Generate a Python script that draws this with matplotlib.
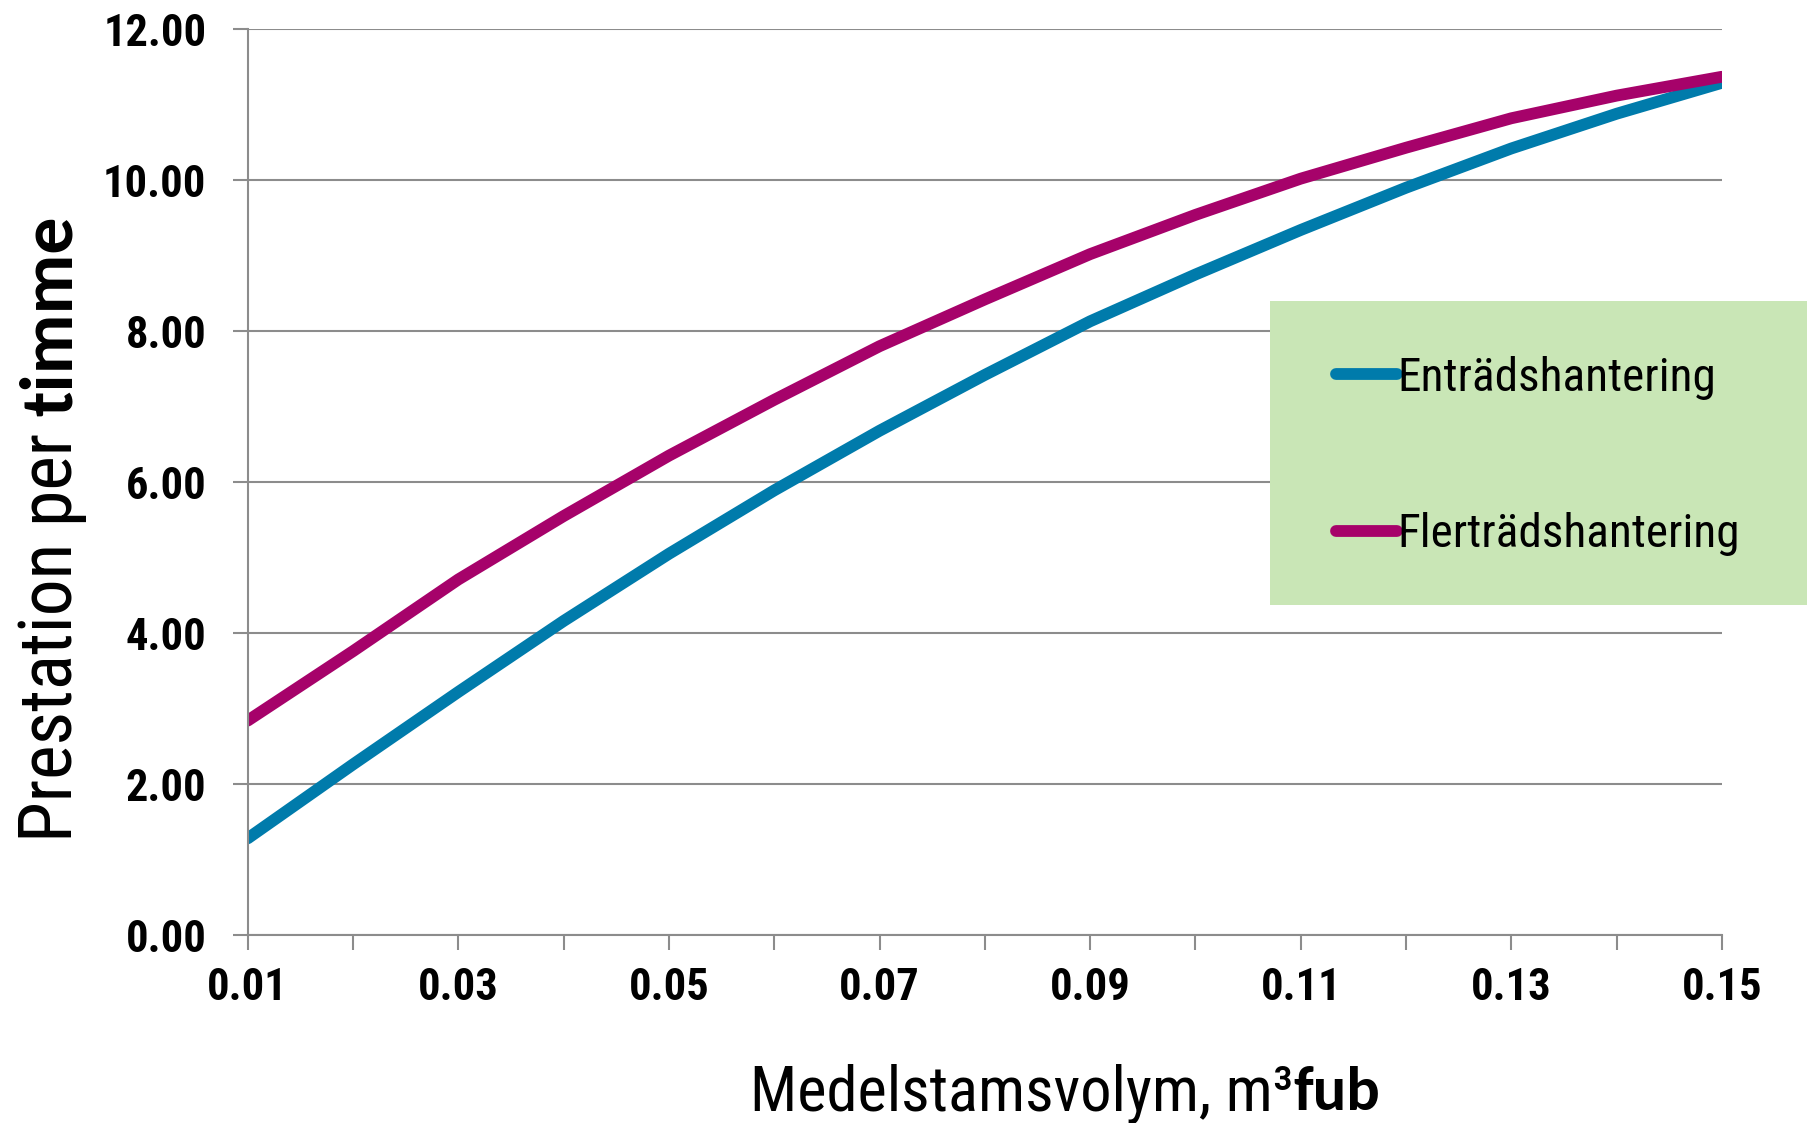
import matplotlib
matplotlib.use("Agg")
import matplotlib.pyplot as plt
from matplotlib import font_manager as fm
from matplotlib.patches import Rectangle
from matplotlib.font_manager import FontProperties

# ---------------- data ----------------
x_vals = [0.01, 0.02, 0.03, 0.04, 0.05, 0.06, 0.07, 0.08, 0.09, 0.10,
          0.11, 0.12, 0.13, 0.14, 0.15]
entrad = [1.28, 2.26, 3.22, 4.16, 5.05, 5.89, 6.68, 7.42, 8.13, 8.75,
          9.34, 9.90, 10.42, 10.88, 11.29]
flertrad = [2.84, 3.76, 4.71, 5.55, 6.35, 7.09, 7.80, 8.42, 9.02, 9.54,
            10.02, 10.43, 10.82, 11.12, 11.37]
series_names = ["Enträdshantering", "Flerträdshantering"]
y_ticks = [0, 2, 4, 6, 8, 10, 12]
x_ticks = x_vals
x_tick_labels = ["0.01", "", "0.03", "", "0.05", "", "0.07", "", "0.09", "",
                 "0.11", "", "0.13", "", "0.15"]
ylabel_parts = ["Prestation per ", "timme"]
xlabel_parts = ["Medelstamsvolym, m³", "fub"]

# ---------------- fonts ----------------
names = {f.name for f in fm.fontManager.ttflist}
def pick(*cands):
    for c in cands:
        if c in names:
            return c
    return "DejaVu Sans"
NARROW = pick("Liberation Sans Narrow", "Arial Narrow", "Roboto Condensed",
              "PT Sans Narrow", "Archivo Narrow")
BOLDF = pick("Carlito", "Calibri", "Lato", "Open Sans")

BLUE = "#007BAB"
MAGENTA = "#A6026A"
GRID = "#8C8C8C"
LEGBG = "#C9E6B6"

W, H = 1808, 1123
fig = plt.figure(figsize=(W / 100, H / 100), dpi=100)
ax = fig.add_axes([0.137, 0.1674, 0.8154, 0.8066])

l1, = ax.plot(x_vals, entrad, color=BLUE, lw=8.5, solid_capstyle="round",
              solid_joinstyle="round", label=series_names[0], zorder=2)
l2, = ax.plot(x_vals, flertrad, color=MAGENTA, lw=8.5, solid_capstyle="round",
              solid_joinstyle="round", label=series_names[1], zorder=2)

ax.set_xlim(0.01, 0.15)
ax.set_ylim(0, 12)
ax.set_yticks(y_ticks)
ax.set_yticklabels([f"{v:.2f}" for v in y_ticks])
ax.set_xticks(x_ticks)
ax.set_xticklabels(x_tick_labels)

for lab in ax.get_yticklabels() + ax.get_xticklabels():
    lab.set_fontfamily(NARROW)
    lab.set_fontsize(32)
    lab.set_fontweight("bold")

ax.tick_params(axis="y", length=10.8, width=1.5, color=GRID, pad=19)
ax.tick_params(axis="x", length=10.8, width=1.5, color=GRID, pad=12)

for s in ["top", "right"]:
    ax.spines[s].set_visible(False)
for s in ["left", "bottom"]:
    ax.spines[s].set_color(GRID)
    ax.spines[s].set_linewidth(1.5)

ax.yaxis.grid(True, color=GRID, lw=1.5)
ax.set_axisbelow(True)

# legend background box
rect = Rectangle((1270 / W, 1 - 605 / H), 1.0 - 1270 / W, (605 - 301) / H,
                 transform=fig.transFigure, facecolor=LEGBG, edgecolor="none",
                 zorder=3, clip_on=False)
ax.add_patch(rect)

leg = ax.legend(handles=[l1, l2], loc="upper left",
                bbox_to_anchor=(1336 / W, 1 - 356 / H),
                bbox_transform=fig.transFigure, frameon=False,
                prop=FontProperties(family=NARROW, size=34),
                handlelength=1.3, handletextpad=0.0, labelspacing=2.38,
                borderpad=0, borderaxespad=0)
leg.set_zorder(5)

# axis labels made of two font pieces
fig.canvas.draw()
r = fig.canvas.get_renderer()

ty1 = fig.text(72 / W, 1 - 842 / H, ylabel_parts[0], rotation=90,
               rotation_mode="anchor", ha="left", va="baseline",
               family=NARROW, size=53)
bb = ty1.get_window_extent(renderer=r)
ty2 = fig.text(72 / W, bb.y1 / H, ylabel_parts[1], rotation=90,
               rotation_mode="anchor", ha="left", va="baseline",
               family=BOLDF, weight="bold", size=53)

tx1 = fig.text(750 / W, 1 - 1110 / H, xlabel_parts[0], ha="left", va="baseline",
               family=NARROW, size=45)
bb = tx1.get_window_extent(renderer=r)
tx2 = fig.text(bb.x1 / W, 1 - 1110 / H, xlabel_parts[1], ha="left",
               va="baseline", family=BOLDF, weight="bold", size=45)

fig.savefig("out.png", dpi=100)
